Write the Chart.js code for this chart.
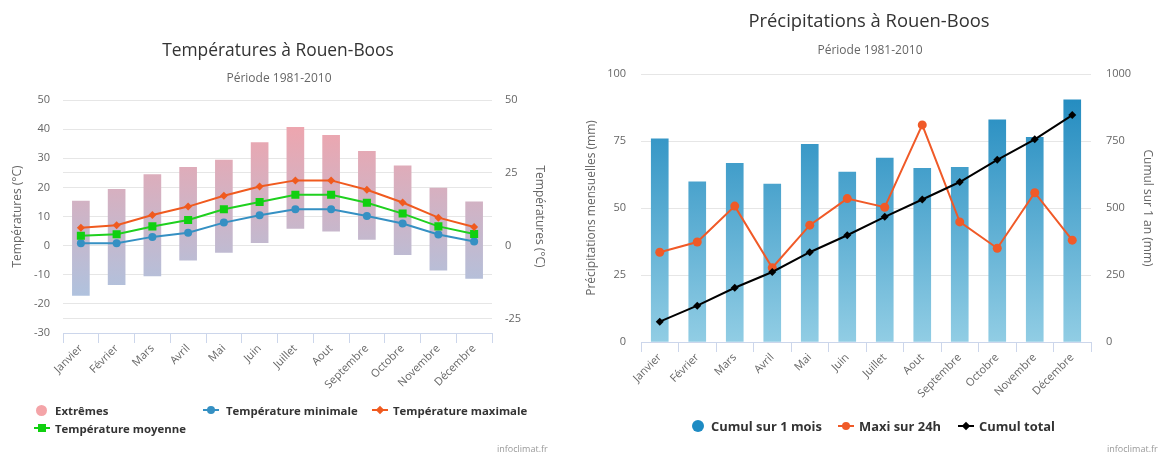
<!DOCTYPE html>
<html><head><meta charset="utf-8">
<script src="https://cdn.jsdelivr.net/npm/chart.js@4/dist/chart.umd.min.js"></script>
<style>
html,body{margin:0;padding:0;background:#fff;}
body{width:1165px;height:454px;position:relative;overflow:hidden;font-family:"Open Sans",sans-serif;}
canvas{position:absolute;top:0;}
.t{position:absolute;white-space:nowrap;line-height:1;}
.c{text-align:center;width:500px;}
.title{font-size:18px;color:#333;}
.sub{font-size:12px;color:#666;}
.leg{font-size:11.4px;font-weight:bold;color:#333;}
.leg2{font-size:12.9px;font-weight:bold;color:#333;}
.cred{font-size:9px;color:#999;}
.s{position:absolute;}
</style></head><body>
<canvas id="cT" width="580" height="454" style="left:0"></canvas>
<canvas id="cP" width="585" height="454" style="left:580px"></canvas>

<div class="t c title" style="left:28px;top:41px;font-size:17.4px">Températures à Rouen-Boos</div>
<div class="t c sub" style="left:29px;top:72px">Période 1981-2010</div>
<div class="t c title" style="left:619px;top:11px;font-size:18.4px">Précipitations à Rouen-Boos</div>
<div class="t c sub" style="left:620px;top:44px">Période 1981-2010</div>

<!-- left legend -->
<div class="s" style="left:36px;top:405px;width:11px;height:11px;border-radius:50%;background:#f4a4a8"></div>
<div class="t leg" style="left:55px;top:405px">Extrêmes</div>
<div class="s" style="left:203px;top:409px;width:16px;height:2px;background:#3590c3"></div>
<div class="s" style="left:207px;top:406px;width:8px;height:8px;border-radius:50%;background:#3590c3"></div>
<div class="t leg" style="left:226px;top:405px">Température minimale</div>
<div class="s" style="left:372px;top:409px;width:16px;height:2px;background:#f05a1f"></div>
<div class="s" style="left:377px;top:407px;width:6px;height:6px;transform:rotate(45deg);background:#f05a1f"></div>
<div class="t leg" style="left:393px;top:405px">Température maximale</div>
<div class="s" style="left:34px;top:427px;width:16px;height:2px;background:#10d010"></div>
<div class="s" style="left:38px;top:424px;width:8px;height:8px;background:#10d010"></div>
<div class="t leg" style="left:55px;top:423px">Température moyenne</div>
<div class="t cred" style="left:497px;top:444px">infoclimat.fr</div>

<!-- right legend -->
<div class="s" style="left:692px;top:420px;width:12px;height:12px;border-radius:50%;background:#1e8bc3"></div>
<div class="t leg2" style="left:711px;top:420px">Cumul sur 1 mois</div>
<div class="s" style="left:838px;top:425px;width:16px;height:2px;background:#f05a28"></div>
<div class="s" style="left:842px;top:422px;width:8px;height:8px;border-radius:50%;background:#f05a28"></div>
<div class="t leg2" style="left:859px;top:420px">Maxi sur 24h</div>
<div class="s" style="left:958px;top:425px;width:16px;height:2px;background:#000"></div>
<div class="s" style="left:963px;top:423px;width:6px;height:6px;transform:rotate(45deg);background:#000"></div>
<div class="t leg2" style="left:979px;top:420px">Cumul total</div>
<div class="t cred" style="left:1107px;top:444px">infoclimat.fr</div>

<script>
const months = ['Janvier','Février','Mars','Avril','Mai','Juin','Juillet','Aout','Septembre','Octobre','Novembre','Décembre'];

// Températures (°C)
const extMax = [15.3, 19.3, 24.4, 26.9, 29.4, 35.4, 40.6, 37.9, 32.4, 27.4, 19.8, 15.0];
const extMin = [-17.1, -13.4, -10.4, -5.0, -2.3, 1.0, 5.9, 5.0, 2.1, -3.1, -8.4, -11.3];
const tMax = [6.1, 7.0, 10.5, 13.4, 17.1, 20.3, 22.4, 22.4, 19.2, 14.8, 9.6, 6.4];
const tMoy = [3.4, 3.9, 6.6, 8.8, 12.5, 15.0, 17.5, 17.5, 14.7, 11.0, 6.6, 4.0];
const tMin = [0.8, 0.8, 3.0, 4.4, 7.9, 10.4, 12.5, 12.5, 10.2, 7.6, 3.8, 1.4];
const tempRightTicks = [-25, 0, 25, 50];

// Précipitations (mm)
const pMois = [75.8, 59.8, 66.7, 58.9, 73.8, 63.4, 68.6, 64.8, 65.2, 82.9, 76.4, 90.4];
const pMax24 = [33.5, 37.3, 50.7, 27.7, 43.6, 53.5, 50.3, 81.0, 44.8, 35.0, 55.7, 38.0];
const pCumul = [75.8, 135.6, 202.3, 261.2, 335.0, 398.4, 467.0, 531.8, 597.0, 679.9, 756.3, 846.7];

const FONT = '"Open Sans", sans-serif';
const tickFont = {family: FONT, size: 11};
const titleFont = {family: FONT, size: 12};

function grad(top, bottom) {
  return (c) => {
    const ch = c.chart; const a = ch.chartArea;
    if (!a) return top;
    const g = ch.ctx.createLinearGradient(0, a.top, 0, a.bottom);
    g.addColorStop(0, top); g.addColorStop(1, bottom);
    return g;
  };
}

function xScale(h) {
  return {
    grid: {offset: true, drawOnChartArea: false, drawTicks: true, tickLength: 10, color: '#ccd6eb'},
    border: {display: true, color: '#ccd6eb'},
    ticks: {minRotation: 45, maxRotation: 45, autoSkip: false, font: tickFont, color: '#666', padding: -1},
    afterFit: s => { s.height = h; }
  };
}
function yScale(pos, min, max, step, w, pad, title, tpad) {
  return {
    position: pos, min: min, max: max,
    ticks: {stepSize: step, padding: pad, font: tickFont, color: '#666', callback: v => String(v)},
    grid: {color: '#e6e6e6', drawTicks: false},
    border: {display: false},
    title: {display: true, text: title, font: titleFont, color: '#666', padding: {top: tpad, bottom: 0}},
    afterFit: s => { s.width = w; }
  };
}

const common = {
  responsive: false, animation: false, events: [],
  plugins: {legend: {display: false}, tooltip: {enabled: false}, title: {display: false}}
};

// Temperature chart
const yT = yScale('left', -30, 50, 10, 63, 13, 'Températures (°C)', 10);
const y1T = yScale('right', -30, 50, 25, 88, 13, 'Températures (°C)', 33);
y1T.afterBuildTicks = s => { s.ticks = tempRightTicks.map(v => ({value: v})); };

new Chart(document.getElementById('cT'), {
  type: 'bar',
  data: {
    labels: months,
    datasets: [
      {type: 'line', label: 'Température maximale', data: tMax, yAxisID: 'y', borderColor: '#f05a1f', backgroundColor: '#f05a1f',
       pointStyle: 'rectRot', pointRadius: 4, pointBorderWidth: 0, borderWidth: 2, order: 1},
      {type: 'line', label: 'Température moyenne', data: tMoy, yAxisID: 'y', borderColor: '#1fd01f', backgroundColor: '#10d010',
       pointStyle: 'rect', pointRadius: 5.7, pointBorderWidth: 0, borderWidth: 2, order: 2},
      {type: 'line', label: 'Température minimale', data: tMin, yAxisID: 'y', borderColor: '#3590c3', backgroundColor: '#3590c3',
       pointStyle: 'circle', pointRadius: 4, pointBorderWidth: 0, borderWidth: 2, order: 3},
      {type: 'bar', label: 'Extrêmes', data: months.map((m, i) => [extMin[i], extMax[i]]), yAxisID: 'y',
       backgroundColor: grad('#f7a1a7', '#a2c8e8'), barThickness: 17, order: 10}
    ]
  },
  options: Object.assign({}, common, {
    layout: {padding: {top: 100, left: 0, right: 0, bottom: 0}},
    scales: {x: xScale(121), y: yT, y1: y1T}
  })
});

// Precipitation chart
new Chart(document.getElementById('cP'), {
  type: 'bar',
  data: {
    labels: months,
    datasets: [
      {type: 'line', label: 'Cumul total', data: pCumul, yAxisID: 'y1', borderColor: '#000', backgroundColor: '#000',
       pointStyle: 'rectRot', pointRadius: 4, pointBorderWidth: 0, borderWidth: 2, order: 1},
      {type: 'line', label: 'Maxi sur 24h', data: pMax24, yAxisID: 'y', borderColor: '#f05a28', backgroundColor: '#f05a28',
       pointStyle: 'circle', pointRadius: 4.5, pointBorderWidth: 0, borderWidth: 2, order: 2},
      {type: 'bar', label: 'Cumul sur 1 mois', data: pMois, yAxisID: 'y',
       backgroundColor: grad('#1a86bd', '#91cde4'), barThickness: 17, order: 10}
    ]
  },
  options: Object.assign({}, common, {
    layout: {padding: {top: 74, left: 0, right: 0, bottom: 0}},
    scales: {
      x: xScale(112),
      y: yScale('left', 0, 100, 25, 61, 15, 'Précipitations mensuelles (mm)', 4),
      y1: yScale('right', 0, 1000, 250, 74, 15, 'Cumul sur 1 an (mm)', 10)
    }
  })
});
</script>
</body></html>
